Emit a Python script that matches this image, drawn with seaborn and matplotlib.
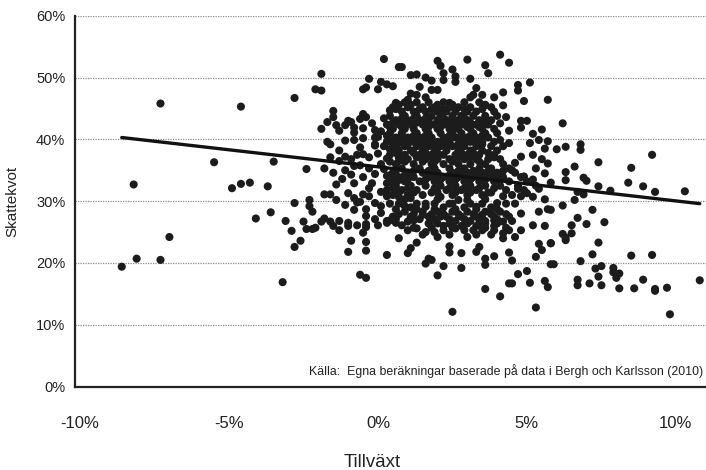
import matplotlib
matplotlib.use("Agg")
import matplotlib.pyplot as plt
import seaborn as sns
import pandas as pd

# ---------------- data (Tillväxt %, Skattekvot %) ----------------
left_points = [(-7.3, 45.8), (-4.6, 45.3), (-5.5, 36.3), (-8.2, 32.7), (-4.9, 32.1),
               (-4.6, 32.8), (-4.3, 33.0), (-4.1, 27.2), (-7.0, 24.2), (-8.6, 19.4),
               (-8.1, 20.7), (-7.3, 20.5), (-3.6, 28.2), (-3.2, 16.9), (-3.5, 36.4),
               (-3.7, 32.4)]

upper_left_points = [(0.2, 53.0), (0.7, 51.7), (-1.9, 50.6), (-0.3, 49.8), (0.1, 49.3),
                     (0.3, 48.9), (0.5, 48.6), (-2.1, 48.1), (-1.9, 47.9), (-0.5, 48.1),
                     (-0.4, 48.4), (0.0, 48.1), (-2.8, 46.7), (0.6, 45.9), (-1.5, 44.6),
                     (0.4, 44.7), (-1.5, 43.6), (-1.7, 42.8), (-0.5, 44.1), (-0.4, 43.6),
                     (-1.0, 43.0), (-0.9, 42.8), (-0.6, 43.3), (-1.4, 42.3), (-1.3, 41.4),
                     (-1.9, 41.7), (-1.1, 42.3), (-0.8, 41.9), (-0.5, 41.8), (-0.8, 41.1),
                     (-0.1, 41.5), (0.1, 41.3), (-1.7, 39.6), (-1.6, 39.2), (-0.8, 39.9),
                     (-0.5, 40.2), (-0.1, 40.3), (0.0, 40.4), (-0.1, 39.2), (0.2, 38.9),
                     (0.4, 38.4), (0.7, 39.4), (-2.4, 35.2), (-1.8, 35.3), (-1.6, 37.1),
                     (-1.3, 36.5), (-1.1, 37.2), (-0.9, 36.8), (-0.7, 37.5), (-0.5, 37.6),
                     (-0.3, 37.1), (0.0, 37.7), (0.3, 36.9), (0.7, 36.5), (-1.5, 34.6),
                     (-1.1, 35.0), (-0.8, 35.7), (-0.6, 35.8), (-0.5, 33.9), (-0.1, 34.4),
                     (0.3, 34.1), (-1.4, 32.7), (-0.8, 32.9), (-0.3, 32.1), (0.3, 32.9),
                     (0.7, 33.4), (-0.2, 42.6), (0.2, 43.4), (-0.1, 39.0), (0.1, 36.0),
                     (-0.3, 35.3), (0.2, 35.2), (-0.6, 38.7), (-1.1, 39.8), (-1.3, 38.2),
                     (-0.9, 34.3), (-1.2, 33.6), (-0.2, 32.9), (0.1, 31.5)]

lower_left_points = [(-1.8, 31.1), (-1.6, 31.1), (-1.0, 31.3), (-0.5, 31.1), (-2.8, 29.7),
                     (-2.3, 30.2), (-2.3, 29.2), (-2.2, 28.3), (-3.1, 26.8), (-2.5, 26.7),
                     (-2.4, 25.5), (-2.2, 25.5), (-2.1, 25.7), (-2.9, 25.2), (-1.9, 26.7),
                     (-1.8, 27.2), (-1.6, 26.7), (-1.5, 26.0), (-1.3, 26.8), (-1.3, 25.3),
                     (-1.0, 26.5), (-1.0, 26.0), (-0.7, 26.1), (-1.1, 29.4), (-0.8, 28.6),
                     (-0.7, 29.8), (-0.6, 29.9), (-0.4, 28.7), (-0.4, 27.6), (-0.1, 27.1),
                     (-0.4, 26.3), (-0.4, 25.8), (-0.5, 24.9), (-0.1, 29.7), (0.1, 29.2),
                     (0.1, 28.1), (0.3, 30.8), (0.0, 26.1), (0.3, 26.5), (0.4, 26.9),
                     (0.6, 26.5), (0.7, 30.7), (0.7, 29.6), (0.7, 24.0), (-2.6, 23.6),
                     (-2.8, 22.6), (-0.9, 23.6), (-0.4, 23.4), (-1.0, 21.8), (-0.4, 22.0),
                     (0.3, 21.3), (-0.6, 18.1), (-0.4, 17.6), (-0.8, 30.5), (-1.4, 30.2),
                     (-0.3, 30.8)]

upper_right_points = [(4.1, 53.7), (3.0, 52.9), (4.4, 52.4), (2.0, 52.7), (2.1, 51.9),
                      (3.6, 52.0), (2.5, 51.3), (0.8, 51.7), (3.7, 50.7), (1.1, 50.4),
                      (1.3, 50.5), (2.2, 50.7), (2.6, 50.2), (1.6, 50.0), (1.8, 49.5),
                      (2.2, 49.6), (2.6, 49.3), (3.1, 49.8), (4.7, 48.8), (5.1, 49.2),
                      (4.7, 47.9), (1.4, 48.5), (1.8, 48.0), (2.0, 48.0), (3.3, 48.3),
                      (4.2, 47.6), (3.9, 46.8), (4.9, 46.2), (5.7, 46.4), (1.1, 47.4),
                      (1.3, 47.2), (1.6, 46.8), (3.1, 46.8), (3.2, 47.2), (3.5, 47.2),
                      (1.0, 46.4), (2.4, 45.9), (3.6, 45.5), (4.2, 45.5), (4.3, 43.6),
                      (4.8, 43.0), (5.0, 43.0), (4.1, 42.6), (4.4, 41.4), (4.8, 41.9),
                      (5.2, 40.9), (5.5, 41.6), (5.7, 39.7), (5.4, 39.9), (5.1, 39.4),
                      (4.4, 39.4), (5.6, 38.5), (5.2, 37.5), (4.8, 37.2), (5.5, 36.8),
                      (5.7, 36.1), (5.3, 35.3), (4.6, 36.2), (4.5, 35.0), (4.9, 34.0),
                      (5.2, 33.5), (4.7, 32.0), (5.4, 32.0), (5.8, 33.0), (5.6, 34.5),
                      (5.0, 31.3)]

lower_mid_points = [(1.1, 30.5), (1.5, 31.0), (1.8, 31.4), (2.1, 30.7), (3.8, 31.4),
                    (4.2, 30.8), (4.8, 30.8), (5.2, 30.7), (5.6, 30.3), (4.0, 29.7),
                    (4.6, 29.6), (4.8, 28.0), (5.4, 28.3), (5.7, 28.7), (0.9, 29.2),
                    (1.6, 29.1), (1.0, 26.7), (1.2, 26.9), (1.5, 27.8), (0.8, 26.1),
                    (1.0, 25.3), (1.3, 25.6), (1.7, 26.4), (1.9, 26.9), (2.1, 27.5),
                    (2.5, 29.6), (2.7, 30.2), (3.0, 30.2), (3.3, 29.1), (3.5, 27.8),
                    (3.6, 26.4), (3.9, 26.9), (4.2, 26.7), (4.4, 27.5), (3.9, 25.3),
                    (4.2, 24.8), (4.4, 25.3), (4.6, 24.2), (4.2, 24.0), (3.5, 25.3),
                    (3.0, 24.2), (2.6, 25.6), (2.2, 25.3), (1.9, 25.0), (1.6, 25.0),
                    (2.0, 24.2), (4.8, 25.3), (5.2, 26.1), (5.6, 26.0), (1.3, 23.3),
                    (1.1, 22.4), (1.0, 21.6), (2.4, 22.7), (2.4, 21.7), (2.8, 21.6),
                    (3.4, 22.6), (3.3, 21.8), (1.7, 20.7), (1.8, 20.5), (1.6, 19.9),
                    (2.2, 19.5), (2.8, 19.2), (3.6, 20.7), (3.6, 19.7), (3.9, 21.1),
                    (4.4, 21.7), (4.5, 20.4), (5.4, 23.1), (5.5, 22.1), (5.3, 21.0),
                    (5.8, 23.2), (5.8, 19.8), (2.0, 18.0), (4.7, 18.2), (5.0, 18.7),
                    (4.4, 16.7), (4.5, 16.7), (5.1, 16.8), (5.6, 17.1), (5.7, 16.1),
                    (3.6, 15.8), (4.1, 14.6), (2.5, 12.1), (5.3, 12.8),
                    (1.3, 29.6), (1.9, 29.6), (3.5, 29.6), (0.9, 30.3), (2.0, 30.3),
                    (3.6, 30.3)]

right_points = [(6.2, 42.6), (6.0, 38.4), (6.3, 38.8), (6.8, 39.2), (6.8, 38.3),
                (7.4, 36.3), (9.2, 37.5), (6.6, 35.6), (8.5, 35.4), (6.3, 34.7),
                (6.3, 33.4), (6.9, 33.8), (7.0, 33.3), (8.4, 33.0), (7.4, 32.4),
                (6.7, 31.5), (6.9, 31.1), (7.8, 31.7), (8.9, 32.4), (9.3, 31.5),
                (10.3, 31.6), (6.6, 30.2), (6.2, 29.3), (7.2, 28.6), (5.8, 28.6),
                (6.7, 27.3), (7.0, 26.3), (7.6, 26.6), (6.5, 26.1), (6.2, 24.7),
                (6.5, 24.8), (6.3, 24.1), (6.3, 23.7), (5.8, 23.2), (7.4, 23.3),
                (7.2, 21.4), (8.5, 21.2), (9.2, 21.3), (5.9, 19.8), (6.8, 20.3),
                (7.3, 19.1), (7.5, 19.5), (7.9, 19.2), (7.9, 18.5), (8.1, 18.3),
                (8.0, 17.6), (7.4, 17.8), (6.7, 17.3), (6.7, 16.4), (7.1, 16.7),
                (7.5, 16.4), (8.1, 15.9), (8.6, 15.9), (8.9, 17.3), (9.3, 15.8),
                (9.3, 15.5), (9.7, 16.0), (10.8, 17.2), (9.8, 11.7)]

# dense core, row by row: Skattekvot -> list of Tillväxt values
core_rows = {
    46.0: [0.9, 1.3, 1.7, 2.2, 2.9, 3.4],
    45.6: [0.7, 1.1, 2.0, 2.5, 3.6],
    45.2: [0.5, 1.0, 1.5, 1.9, 2.4, 2.7, 3.1, 3.8],
    44.9: [0.6, 1.4, 1.8, 2.2, 2.9, 3.5],
    44.5: [0.8, 1.2, 1.6, 2.0, 2.3, 2.6, 3.0, 3.3, 3.9],
    43.8: [0.4, 0.9, 1.3, 1.8, 2.1, 2.5, 2.8, 3.2, 3.6, 4.0],
    43.4: [0.8, 1.2, 1.6, 2.2, 2.5, 2.9, 3.6],
    43.1: [0.6, 1.0, 1.4, 1.7, 2.0, 2.3, 2.7, 3.0, 3.4, 3.8],
    42.7: [0.5, 0.9, 1.3, 1.7, 2.1, 2.4, 2.8, 3.1, 3.5],
    42.4: [0.3, 0.7, 1.1, 1.5, 1.9, 2.2, 2.5, 2.9, 3.3, 3.7],
    42.0: [0.4, 0.8, 1.7, 2.1, 2.6, 3.0, 3.4],
    41.7: [0.5, 0.9, 1.2, 1.6, 2.0, 2.4, 2.7, 3.1, 3.5, 3.9],
    41.0: [0.4, 0.8, 1.3, 1.7, 2.1, 2.5, 2.8, 3.2, 3.6, 4.0],
    40.6: [0.3, 0.8, 1.2, 1.6, 2.4, 2.8, 3.1, 3.5],
    40.3: [0.6, 1.0, 1.4, 1.8, 2.2, 2.6, 3.0, 3.3, 3.7],
    39.9: [0.5, 0.9, 1.4, 1.8, 2.2, 3.0, 3.3, 4.1],
    39.6: [0.3, 0.8, 1.2, 1.6, 2.0, 2.4, 2.8, 3.1, 3.5, 3.9],
    39.2: [0.6, 1.0, 1.5, 1.9, 2.3, 2.7, 3.5],
    38.9: [0.5, 0.9, 1.3, 1.7, 2.1, 2.5, 2.9, 3.3, 3.8, 4.2],
    38.2: [0.7, 1.1, 1.5, 1.9, 2.3, 2.7, 3.1, 3.5, 4.0],
    37.8: [0.6, 1.2, 1.6, 2.0, 2.8, 3.2, 3.7],
    37.5: [0.4, 0.9, 1.4, 1.8, 2.2, 2.6, 3.0, 3.4, 3.9],
    37.1: [0.7, 1.3, 1.8, 2.7, 3.1, 3.9],
    36.8: [1.0, 1.6, 2.0, 2.4, 2.9, 3.3, 3.7, 4.1],
    36.4: [0.4, 0.9, 1.5, 1.9, 2.5, 3.4],
    36.0: [0.6, 1.2, 1.8, 2.2, 2.7, 3.1, 3.6, 4.2],
    35.3: [0.8, 1.4, 1.9, 2.4, 2.9, 3.4, 3.8, 4.4],
    34.9: [0.6, 1.2, 1.7, 2.7, 3.2, 3.7, 4.2],
    34.6: [0.5, 1.0, 1.5, 2.0, 2.5, 3.0, 3.5, 4.0, 4.6],
    34.2: [0.4, 0.9, 1.9, 2.4, 2.9, 3.4, 3.9],
    33.9: [0.7, 1.2, 1.7, 2.2, 2.7, 3.2, 3.7, 4.2, 4.8],
    33.5: [0.5, 1.0, 1.6, 2.1, 2.6, 3.1, 3.6, 4.1],
    33.2: [0.4, 0.9, 1.4, 1.9, 2.4, 2.9, 3.4, 3.9, 4.4, 5.0],
    32.5: [0.6, 1.1, 1.6, 2.1, 2.6, 3.1, 3.6, 4.1, 4.7, 5.3],
    32.1: [0.5, 1.0, 1.9, 2.4, 2.9, 3.4, 3.9],
    31.8: [0.3, 0.8, 1.3, 2.3, 2.8, 3.3, 4.3, 4.9],
    31.4: [0.7, 1.2, 2.0, 2.6, 3.1, 3.7],
    31.0: [0.5, 1.0, 2.5, 3.0, 3.5, 4.5],
    29.6: [0.4, 1.6, 2.4, 3.1, 4.3],
    29.0: [1.1, 2.2, 2.9, 3.8],
    28.7: [0.6, 1.3, 1.9, 2.6, 3.3, 4.0],
    28.3: [0.9, 1.5, 2.0, 2.5, 3.0, 3.6, 4.1],
    27.9: [0.7, 1.2, 1.8, 2.2, 2.7, 3.2, 3.8, 4.3],
    27.5: [0.5, 1.1, 1.7, 2.3, 2.8, 3.3, 3.9],
    27.1: [0.6, 1.4, 1.9, 2.4, 2.9, 3.4, 4.0],
    26.8: [0.3, 2.6, 3.1, 3.6, 4.5],
    26.4: [2.0, 2.4, 3.0, 3.4, 4.0],
    26.0: [2.2, 2.8, 3.3, 3.9],
    25.7: [1.2, 1.8, 2.5, 3.6, 4.3],
    25.3: [2.9, 3.2],
    24.6: [1.5, 2.4, 3.3, 3.8],
}

trend_x = [-8.6, 10.8]
trend_y = [40.3, 29.6]

x_ticks = [-10, -5, 0, 5, 10]
y_ticks = [0, 10, 20, 30, 40, 50, 60]
source_text = "Källa:  Egna beräkningar baserade på data i Bergh och Karlsson (2010)"

# ---------------- build table ----------------
pairs = (left_points + upper_left_points + lower_left_points + upper_right_points
         + lower_mid_points + right_points)
for yv, xs in core_rows.items():
    pairs += [(xv, yv) for xv in xs]
df = pd.DataFrame(pairs, columns=["Tillväxt", "Skattekvot"])

# ---------------- plot ----------------
sns.set_style("white")
plt.rcParams["font.family"] = ["Liberation Sans", "DejaVu Sans"]

fig = plt.figure(figsize=(7.06, 4.70), dpi=100)
ax = fig.add_axes([0.1062, 0.1774, 0.8938, 0.7891])

sns.scatterplot(data=df, x="Tillväxt", y="Skattekvot", s=34, color="#1c1c1c",
                edgecolor="none", linewidth=0, ax=ax, zorder=3, legend=False)
sns.lineplot(x=trend_x, y=trend_y, color="#111111", linewidth=2.4, ax=ax, zorder=4)

ax.set_xlim(-10.17, 11.01)
ax.set_ylim(0, 60)
ax.set_xticks(x_ticks)
ax.set_xticklabels([f"{v}%" for v in x_ticks])
ax.set_yticks(y_ticks)
ax.set_yticklabels([f"{v}%" for v in y_ticks])

ax.yaxis.grid(True, linestyle=(0, (1, 1)), color="#8a8a8a", linewidth=0.9)
ax.xaxis.grid(False)
ax.set_axisbelow(True)

for side in ["top", "right"]:
    ax.spines[side].set_visible(False)
for side in ["left", "bottom"]:
    ax.spines[side].set_color("#222222")
    ax.spines[side].set_linewidth(1.6)
    ax.spines[side].set_zorder(5)

ax.tick_params(axis="y", length=4, width=1.2, direction="out", pad=3,
               labelsize=10.5, color="#222222", labelcolor="#222222")
ax.tick_params(axis="x", length=0, pad=21, labelsize=12, labelcolor="#222222")

ax.set_xlabel("Tillväxt", fontsize=13.4, color="#222222")
ax.xaxis.set_label_coords(0.4715, -0.182)
ax.set_ylabel("Skattekvot", fontsize=11, color="#222222")
ax.yaxis.set_label_coords(-0.088, 0.5)

ax.text(0.995, 0.022, source_text, transform=ax.transAxes, ha="right", va="bottom",
        fontsize=8.9, color="#222222", zorder=6)

fig.savefig("out.png", dpi=100)
